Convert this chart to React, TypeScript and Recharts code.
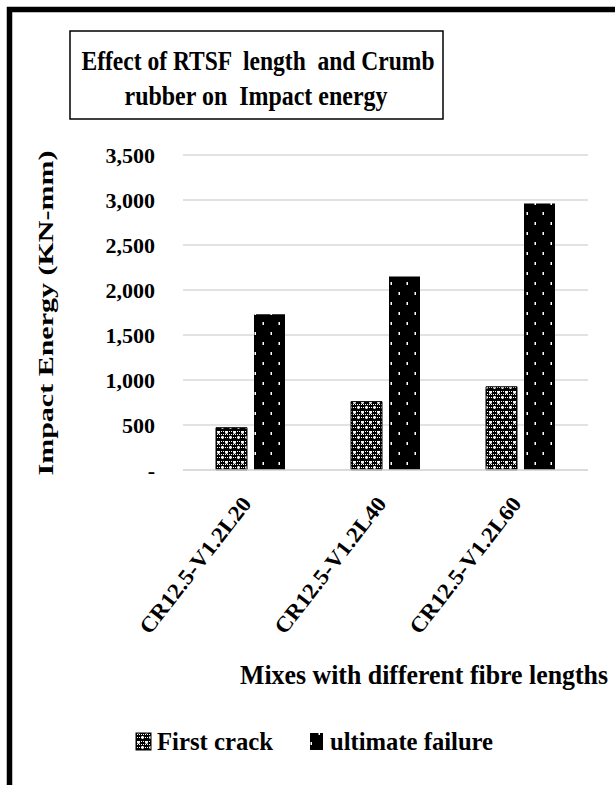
import React from "react";
import { BarChart, Bar, XAxis, YAxis, CartesianGrid } from "recharts";

const categories = ["CR12.5-V1.2L20", "CR12.5-V1.2L40", "CR12.5-V1.2L60"];
const firstCrack = [470, 760, 925];
const ultimateFailure = [1730, 2150, 2960];
const yTicks = [0, 500, 1000, 1500, 2000, 2500, 3000, 3500];
const seriesNames = ["First crack", "ultimate failure"];

const data = categories.map((c, i) => ({
  name: c,
  first: firstCrack[i],
  ultimate: ultimateFailure[i],
}));

const FONT = "'Liberation Serif', 'Times New Roman', Times, serif";

const Patterns = ({ suffix }: { suffix: string }) => (
  <defs>
    <pattern id={`pFirst${suffix}`} width="8" height="10" patternUnits="userSpaceOnUse">
      <rect width="8" height="10" fill="#000" />
      {[1, 3, 5, 7].map((px) =>
        [1, 4, 7].map((py) => (
          <rect key={`${px}-${py}`} x={px} y={py} width="1" height="1" fill="#fff" />
        ))
      )}
      <circle cx="2.5" cy="2.5" r="1.4" fill="#fff" />
      <circle cx="6.5" cy="7.5" r="1.4" fill="#fff" />
    </pattern>
    <pattern id={`pUlt${suffix}`} width="16" height="20" patternUnits="userSpaceOnUse">
      <rect width="16" height="20" fill="#000" />
      <rect x="6.5" y="2" width="1.5" height="3" fill="#fff" />
      <rect x="14.5" y="12" width="1.5" height="3" fill="#fff" />
    </pattern>
  </defs>
);

const XTick = (props: any) => {
  const { x, y, payload } = props;
  return (
    <g transform={`translate(${x + 2},${y + 34})`}>
      <text
        transform="rotate(-52)"
        textAnchor="end"
        fontFamily={FONT}
        fontWeight="bold"
        fontSize={22}
        fill="#000"
        textLength={167}
        lengthAdjust="spacingAndGlyphs"
      >
        {payload.value}
      </text>
    </g>
  );
};

const YTick = (props: any) => {
  const { x, y, payload } = props;
  const label = payload.value === 0 ? "-" : payload.value.toLocaleString("en-US");
  return (
    <text
      x={x}
      y={y}
      dy="0.35em"
      textAnchor="end"
      fontFamily={FONT}
      fontWeight="bold"
      fontSize={22}
      fill="#000"
    >
      {label}
    </text>
  );
};

const pre = { whiteSpace: "pre" as const };

export default function App() {
  return (
    <div
      style={{
        position: "absolute",
        left: 0,
        top: 0,
        width: 615,
        height: 785,
        background: "#fff",
        overflow: "hidden",
      }}
    >
      <svg width="0" height="0" style={{ position: "absolute" }}>
        <Patterns suffix="" />
      </svg>
      <div style={{ position: "absolute", left: 0, top: 0 }}>
        <BarChart
          width={615}
          height={785}
          data={data}
          margin={{ top: 155, right: 27, left: 0, bottom: 115 }}
          barSize={31}
          barGap={7}
        >
          <CartesianGrid vertical={false} stroke="#d9d9d9" strokeWidth={1.5} />
          <XAxis
            dataKey="name"
            height={200}
            tickLine={false}
            axisLine={{ stroke: "#d9d9d9", strokeWidth: 1.5 }}
            tickSize={0}
            tickMargin={0}
            interval={0}
            tick={<XTick />}
          />
          <YAxis
            width={183}
            domain={[0, 3500]}
            ticks={yTicks}
            axisLine={false}
            tickLine={false}
            tickSize={0}
            tickMargin={28}
            tick={<YTick />}
          />
          <Bar
            dataKey="first"
            name={seriesNames[0]}
            fill="url(#pFirst)"
            stroke="#000"
            strokeWidth={1}
            isAnimationActive={false}
          />
          <Bar
            dataKey="ultimate"
            name={seriesNames[1]}
            fill="url(#pUlt)"
            isAnimationActive={false}
          />
        </BarChart>
      </div>
      <svg
        width={615}
        height={785}
        style={{ position: "absolute", left: 0, top: 0, pointerEvents: "none" }}
      >
        <rect x={9.5} y={9.5} width={640} height={800} fill="none" stroke="#000" strokeWidth={5.5} />
        <rect x={70} y={31} width={373} height={88} fill="#fff" stroke="#000" strokeWidth={1.5} />
        <text
          x={258}
          y={70}
          textAnchor="middle"
          fontFamily={FONT}
          fontWeight="bold"
          fontSize={27}
          textLength={353}
          lengthAdjust="spacingAndGlyphs"
          style={pre}
        >
          {"Effect of RTSF  length  and Crumb"}
        </text>
        <text
          x={256}
          y={105}
          textAnchor="middle"
          fontFamily={FONT}
          fontWeight="bold"
          fontSize={27}
          textLength={263}
          lengthAdjust="spacingAndGlyphs"
          style={pre}
        >
          {"rubber on  Impact energy"}
        </text>
        <text
          transform="translate(53,313) rotate(-90)"
          textAnchor="middle"
          fontFamily={FONT}
          fontWeight="bold"
          fontSize={22}
          textLength={325}
          lengthAdjust="spacingAndGlyphs"
        >
          Impact Energy (KN-mm)
        </text>
        <text
          x={424}
          y={684}
          textAnchor="middle"
          fontFamily={FONT}
          fontWeight="bold"
          fontSize={27}
          textLength={368}
          lengthAdjust="spacingAndGlyphs"
        >
          Mixes with different fibre lengths
        </text>
        <rect x={136} y={733} width={15} height={17} fill="url(#pFirst)" stroke="#000" strokeWidth={1} />
        <text x={157} y={750} fontFamily={FONT} fontWeight="bold" fontSize={25} textLength={116} lengthAdjust="spacingAndGlyphs">
          {seriesNames[0]}
        </text>
        <rect x={310} y={733} width={13} height={17} fill="url(#pUlt)" />
        <text x={330} y={750} fontFamily={FONT} fontWeight="bold" fontSize={25} textLength={163} lengthAdjust="spacingAndGlyphs">
          {seriesNames[1]}
        </text>
      </svg>
    </div>
  );
}
